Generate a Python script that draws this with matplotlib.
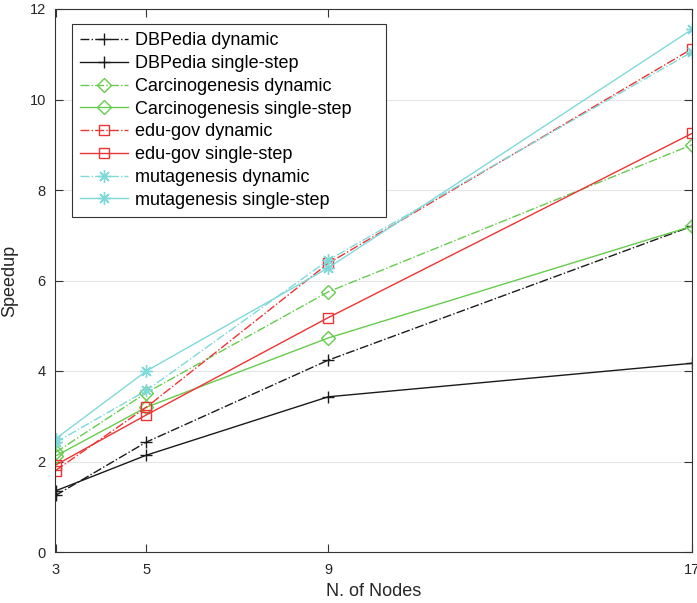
import numpy as np
import matplotlib.pyplot as plt

plt.rcParams['font.family'] = ['Liberation Sans', 'DejaVu Sans']

nodes = [3, 5, 9, 17]

dbpedia_dyn = [1.25, 2.43, 4.24, 7.20]
dbpedia_single = [1.35, 2.14, 3.43, 4.17]
carc_dyn = [2.20, 3.52, 5.75, 9.00]
carc_single = [2.12, 3.20, 4.73, 7.20]
edugov_dyn = [1.80, 3.20, 6.38, 11.12]
edugov_single = [1.92, 3.03, 5.18, 9.25]
muta_dyn = [2.42, 3.57, 6.45, 11.05]
muta_single = [2.50, 4.00, 6.28, 11.55]

black = '#1a1a1a'
green = '#66cc4d'
red = '#ee3333'
cyan = '#80d9d9'

asterisk = (8, 2, 0)
series = [
    ('DBPedia dynamic', dbpedia_dyn, black, '-.', '+', 9),
    ('DBPedia single-step', dbpedia_single, black, '-', '+', 9),
    ('Carcinogenesis dynamic', carc_dyn, green, '-.', 'D', 7),
    ('Carcinogenesis single-step', carc_single, green, '-', 'D', 7),
    ('edu-gov dynamic', edugov_dyn, red, '-.', 's', 7),
    ('edu-gov single-step', edugov_single, red, '-', 's', 7),
    ('mutagenesis dynamic', muta_dyn, cyan, '-.', asterisk, 9),
    ('mutagenesis single-step', muta_single, cyan, '-', asterisk, 9),
]

fig = plt.figure(figsize=(6.97, 6.03), dpi=100)
ax = fig.add_axes([55.5 / 697, 51 / 603, 636.5 / 697, 543 / 603])

for label, vals, col, ls, mk, ms in series:
    ax.plot(nodes, vals, color=col, linestyle=ls, linewidth=1.0, marker=mk,
            markersize=ms, markerfacecolor='none', markeredgecolor=col,
            markeredgewidth=1.0, label=label)

ax.set_xlim(3, 17)
ax.set_ylim(0, 12)
ax.set_xticks(nodes)
ax.set_yticks(range(0, 13, 2))
ax.yaxis.grid(True, color='#e6e6e6', linewidth=0.8)
ax.set_axisbelow(True)
ax.tick_params(direction='in', top=True, right=True, labelsize=10.5, length=6,
               color='#333333', labelcolor='#262626')
ax.tick_params(axis='x', pad=8)
ax.tick_params(axis='y', pad=7)
for s in ax.spines.values():
    s.set_color('#333333')
ax.set_xlabel('N. of Nodes', fontsize=13, color='#262626', labelpad=4)
ax.set_ylabel('Speedup', fontsize=13, color='#262626', labelpad=8)

# legend box: 72..386 px wide, top at 24 px
leg = ax.legend(loc='upper left', bbox_to_anchor=(0.026, 0.0, 0.493, 0.972),
                mode='expand', fontsize=13,
                handlelength=2.65, handletextpad=0.4, labelspacing=0.32,
                borderpad=0.45, borderaxespad=0, fancybox=False, framealpha=1,
                edgecolor='#333333')
leg.get_frame().set_linewidth(0.8)

fig.savefig('out.png', dpi=100)
